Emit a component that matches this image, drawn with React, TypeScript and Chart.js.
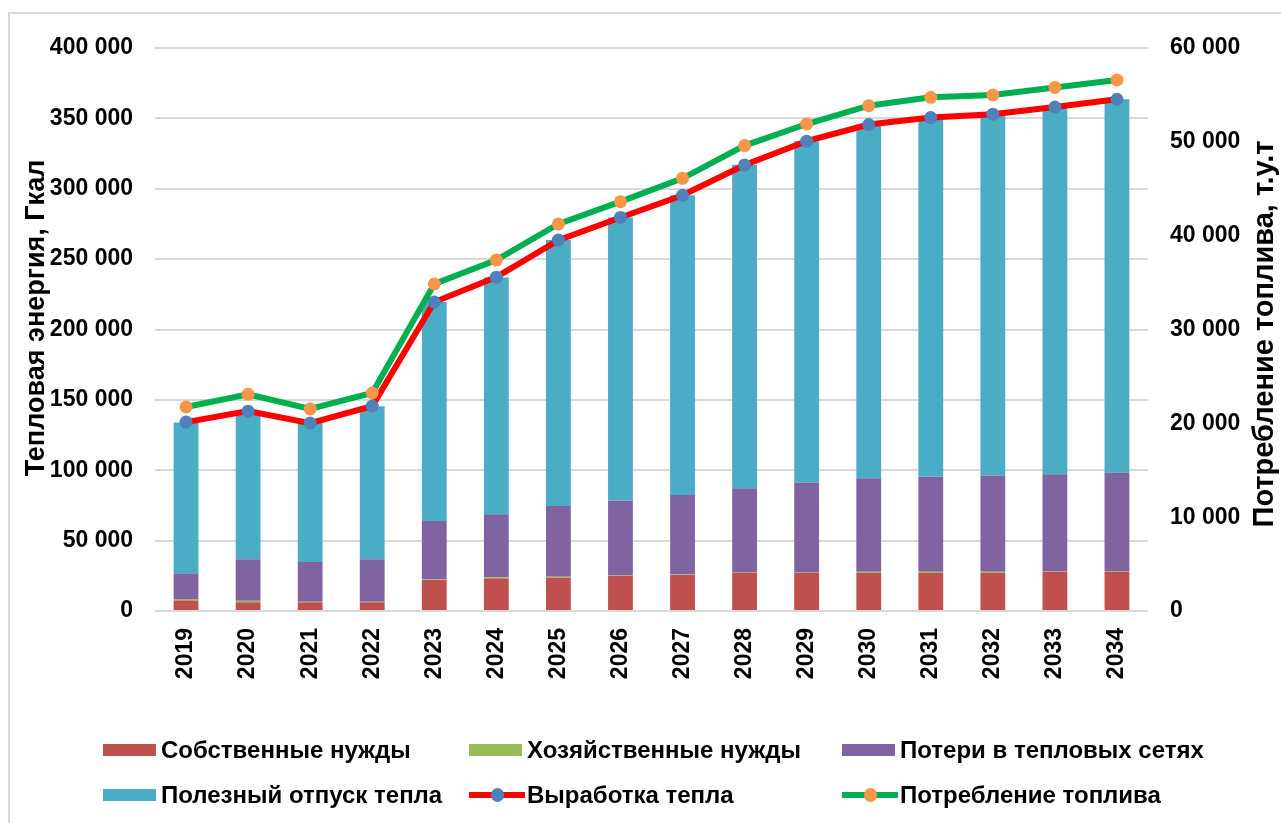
import React, { useEffect, useRef } from "react";
import { Chart, registerables } from "chart.js";

Chart.register(...registerables);

const years = ["2019", "2020", "2021", "2022", "2023", "2024", "2025", "2026", "2027", "2028", "2029", "2030", "2031", "2032", "2033", "2034"];
const sobstvennye = [7500, 6200, 6200, 6200, 22000, 23200, 23600, 24900, 25600, 27100, 27100, 27000, 27000, 27000, 28100, 28100];
const hozyaistvennye = [1000, 1000, 300, 300, 300, 800, 800, 300, 300, 300, 300, 800, 800, 800, 300, 300];
const poteri = [18300, 29500, 28300, 30200, 41600, 44700, 50200, 53100, 56500, 59900, 63900, 66600, 67500, 68500, 68800, 69800];
const polezny = [107200, 102800, 99200, 108800, 155600, 168300, 188900, 201300, 213000, 229700, 242500, 251200, 255300, 256700, 260900, 265400];
const vyrabotka = [134200, 142000, 133500, 145600, 219500, 237200, 263500, 279600, 295400, 316900, 333800, 345600, 350600, 353000, 358100, 363600];
const potreblenie = [21740, 23100, 21530, 23230, 34850, 37400, 41250, 43620, 46110, 49600, 51900, 53850, 54740, 54990, 55800, 56590];

const leftTitle = "Тепловая энергия, Гкал";
const rightTitle = "Потребление топлива, т.у.т";

const FONT = "'Liberation Sans', Arial, sans-serif";

type LegendItem = { label: string; kind: "box" | "line"; color: string; dot?: string };
const legendItems: LegendItem[] = [
  { label: "Собственные нужды", kind: "box", color: "#C0504D" },
  { label: "Хозяйственные нужды", kind: "box", color: "#9BBB59" },
  { label: "Потери в тепловых сетях", kind: "box", color: "#8064A2" },
  { label: "Полезный отпуск тепла", kind: "box", color: "#4BACC6" },
  { label: "Выработка тепла", kind: "line", color: "#FF0000", dot: "#4F81BD" },
  { label: "Потребление топлива", kind: "line", color: "#00B050", dot: "#F79646" },
];
const legendCols = [103, 469, 842];
const legendRows = [750, 795];

const fmt = (v: number | string) => Number(v).toString().replace(/\B(?=(\d{3})+(?!\d))/g, " ");

export default function App() {
  const ref = useRef<HTMLCanvasElement>(null);

  useEffect(() => {
    if (!ref.current) return;
    const titlesPlugin = {
      id: "axisTitles",
      afterDraw(chart: any) {
        const ctx = chart.ctx;
        const drawRot = (text: string, x: number, y: number, size: number) => {
          ctx.save();
          ctx.translate(x, y);
          ctx.rotate(-Math.PI / 2);
          ctx.font = `bold ${size}px ${FONT}`;
          ctx.fillStyle = "#000";
          ctx.textAlign = "center";
          ctx.textBaseline = "middle";
          ctx.fillText(text, 0, 0);
          ctx.restore();
        };
        drawRot(leftTitle, 37, 318, 27);
        drawRot(rightTitle, 1265, 334, 29);
      },
    };
    const barDs = (label: string, data: number[], color: string) => ({
      type: "bar" as const,
      label,
      data,
      backgroundColor: color,
      borderWidth: 0,
      stack: "s",
      yAxisID: "y",
      order: 2,
      categoryPercentage: 1,
      barPercentage: 0.4,
    });
    const chart = new Chart(ref.current, {
      type: "bar",
      data: {
        labels: years,
        datasets: [
          barDs("Собственные нужды", sobstvennye, "#C0504D"),
          barDs("Хозяйственные нужды", hozyaistvennye, "#9BBB59"),
          barDs("Потери в тепловых сетях", poteri, "#8064A2"),
          barDs("Полезный отпуск тепла", polezny, "#4BACC6"),
          {
            type: "line",
            label: "Выработка тепла",
            data: vyrabotka,
            borderColor: "#FF0000",
            borderWidth: 6,
            pointBackgroundColor: "#4F81BD",
            pointBorderWidth: 0,
            pointRadius: 6.5,
            yAxisID: "y",
            order: 1,
          } as any,
          {
            type: "line",
            label: "Потребление топлива",
            data: potreblenie,
            borderColor: "#00B050",
            borderWidth: 6,
            pointBackgroundColor: "#F79646",
            pointBorderWidth: 0,
            pointRadius: 6.5,
            yAxisID: "y1",
            order: 0,
          } as any,
        ],
      },
      options: {
        responsive: false,
        animation: false,
        layout: { padding: { top: 48, left: 0, right: 0, bottom: 0 } },
        plugins: { legend: { display: false }, tooltip: { enabled: false } },
        scales: {
          x: {
            stacked: true,
            grid: { display: false, drawTicks: false },
            border: { display: false },
            ticks: {
              color: "#000",
              font: { family: FONT, size: 23, weight: "bold" },
              minRotation: 90,
              maxRotation: 90,
              padding: 17,
            },
            afterFit(scale: any) {
              scale.height = 212;
            },
          },
          y: {
            position: "left",
            stacked: true,
            min: 0,
            max: 400000,
            grid: { color: "#D9D9D9", lineWidth: 2, drawTicks: false },
            border: { display: false },
            ticks: {
              stepSize: 50000,
              color: "#000",
              padding: 22,
              font: { family: FONT, size: 23, weight: "bold" },
              callback: (v: any) => fmt(v),
            },
            afterFit(scale: any) {
              scale.width = 155;
            },
          },
          y1: {
            position: "right",
            min: 0,
            max: 60000,
            grid: { display: false, drawTicks: false },
            border: { display: false },
            ticks: {
              stepSize: 10000,
              color: "#000",
              padding: 22,
              font: { family: FONT, size: 23, weight: "bold" },
              callback: (v: any) => fmt(v),
            },
            afterFit(scale: any) {
              scale.width = 133;
            },
          },
        },
      } as any,
      plugins: [titlesPlugin],
    });
    return () => chart.destroy();
  }, []);

  return (
    <div style={{ position: "fixed", left: 0, top: 0, width: 1281, height: 823, background: "#fff", overflow: "hidden" }}>
      <div style={{ position: "absolute", left: 8, top: 12, width: 1400, height: 1000, borderLeft: "2px solid #D9D9D9", borderTop: "2px solid #D9D9D9" }} />
      <canvas ref={ref} width={1281} height={823} style={{ position: "absolute", left: 0, top: 0, width: 1281, height: 823 }} />
      {legendItems.map((it, i) => {
        const left = legendCols[i % 3];
        const cy = legendRows[Math.floor(i / 3)];
        return (
          <div
            key={it.label}
            style={{
              position: "absolute",
              left,
              top: cy - 15,
              height: 30,
              display: "flex",
              alignItems: "center",
              fontFamily: FONT,
              fontWeight: "bold",
              fontSize: 24,
              color: "#000",
              whiteSpace: "nowrap",
            }}
          >
            {it.kind === "box" ? (
              <span style={{ display: "inline-block", width: 53, height: 12, background: it.color, marginRight: 5 }} />
            ) : (
              <span style={{ position: "relative", display: "inline-block", width: 56, height: 14, marginRight: 2 }}>
                <span style={{ position: "absolute", left: 0, top: 4, width: 56, height: 6, background: it.color }} />
                <span style={{ position: "absolute", left: 22, top: 0, width: 13, height: 14, borderRadius: "50%", background: it.dot }} />
              </span>
            )}
            <span>{it.label}</span>
          </div>
        );
      })}
    </div>
  );
}
